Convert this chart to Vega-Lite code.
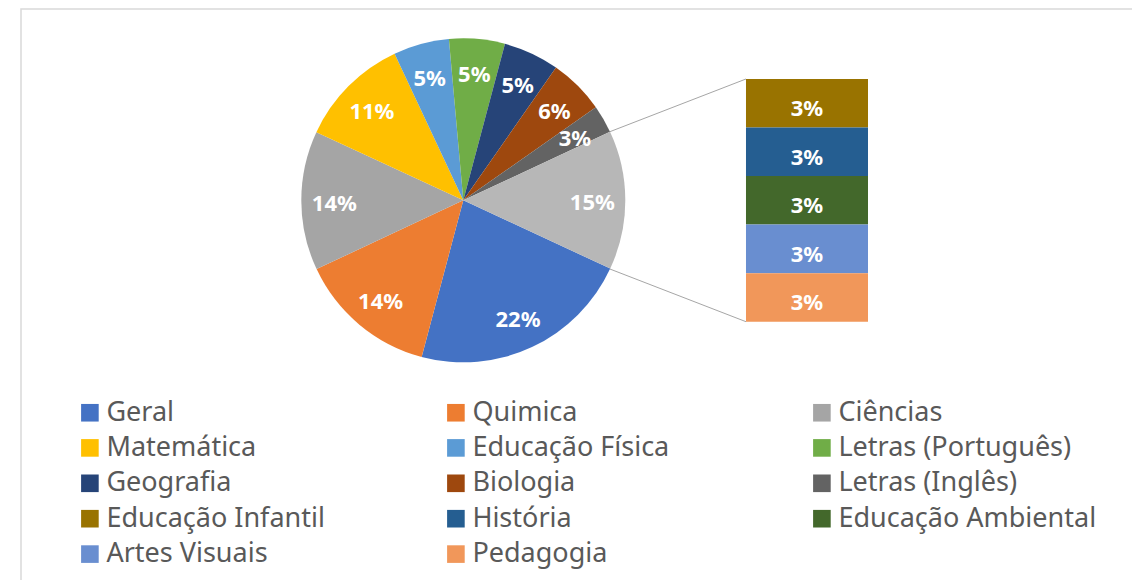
{
  "$schema": "https://vega.github.io/schema/vega-lite/v6.json",
  "width": 1114,
  "height": 574,
  "autosize": {"type": "none"},
  "padding": {"left": 21, "top": 9, "right": -3, "bottom": -3},
  "background": "white",
  "config": {
    "view": {"stroke": "#D9D9D9", "strokeWidth": 1.5},
    "font": "Noto Sans"
  },
  "data": {
    "values": [
      {"ordem": 1, "categoria": "Geral", "fatia": "Geral", "grafico": "pizza", "valor": 8, "pct": 0.22},
      {"ordem": 2, "categoria": "Quimica", "fatia": "Quimica", "grafico": "pizza", "valor": 5, "pct": 0.14},
      {"ordem": 3, "categoria": "Ciências", "fatia": "Ciências", "grafico": "pizza", "valor": 5, "pct": 0.14},
      {"ordem": 4, "categoria": "Matemática", "fatia": "Matemática", "grafico": "pizza", "valor": 4, "pct": 0.11},
      {"ordem": 5, "categoria": "Educação Física", "fatia": "Educação Física", "grafico": "pizza", "valor": 2, "pct": 0.05},
      {"ordem": 6, "categoria": "Letras (Português)", "fatia": "Letras (Português)", "grafico": "pizza", "valor": 2, "pct": 0.05},
      {"ordem": 7, "categoria": "Geografia", "fatia": "Geografia", "grafico": "pizza", "valor": 2, "pct": 0.05},
      {"ordem": 8, "categoria": "Biologia", "fatia": "Biologia", "grafico": "pizza", "valor": 2, "pct": 0.06},
      {"ordem": 9, "categoria": "Letras (Inglês)", "fatia": "Letras (Inglês)", "grafico": "pizza", "valor": 1, "pct": 0.03},
      {"ordem": 10, "categoria": "Educação Infantil", "fatia": "Outros", "grafico": "barra", "valor": 1, "pct": 0.03},
      {"ordem": 11, "categoria": "História", "fatia": "Outros", "grafico": "barra", "valor": 1, "pct": 0.03},
      {"ordem": 12, "categoria": "Educação Ambiental", "fatia": "Outros", "grafico": "barra", "valor": 1, "pct": 0.03},
      {"ordem": 13, "categoria": "Artes Visuais", "fatia": "Outros", "grafico": "barra", "valor": 1, "pct": 0.03},
      {"ordem": 14, "categoria": "Pedagogia", "fatia": "Outros", "grafico": "barra", "valor": 1, "pct": 0.03}
    ]
  },
  "layer": [
    {
      "data": {"values": [{}]},
      "mark": {"type": "rule", "color": "#A6A6A6", "strokeWidth": 1, "xOffset": 146.7, "yOffset": -68.7, "x2Offset": -61},
      "encoding": {
        "x": {"datum": "pizza", "type": "nominal", "axis": null},
        "y": {"datum": 2.5, "type": "quantitative", "axis": null},
        "x2": {"datum": "barra"},
        "y2": {"datum": 5}
      }
    },
    {
      "data": {"values": [{}]},
      "mark": {"type": "rule", "color": "#A6A6A6", "strokeWidth": 1, "xOffset": 146.7, "yOffset": 68.7, "x2Offset": -61},
      "encoding": {
        "x": {"datum": "pizza", "type": "nominal", "axis": null},
        "y": {"datum": 2.5, "type": "quantitative", "axis": null},
        "x2": {"datum": "barra"},
        "y2": {"datum": 0}
      }
    },
    {
      "transform": [
        {"aggregate": [
          {"op": "sum", "field": "valor", "as": "valor"},
          {"op": "sum", "field": "pct", "as": "pct"},
          {"op": "min", "field": "ordem", "as": "ordem"}
        ], "groupby": ["fatia"]}
      ],
      "encoding": {
        "theta": {"field": "valor", "type": "quantitative", "stack": true, "scale": {"range": [2.0054, 8.2886]}},
        "order": {"field": "ordem", "type": "quantitative"},
        "x": {"datum": "pizza", "type": "nominal", "axis": null},
        "y": {"datum": 2.5, "type": "quantitative", "axis": null}
      },
      "layer": [
        {
          "mark": {"type": "arc", "outerRadius": 162},
          "encoding": {
            "color": {
              "field": "fatia",
              "type": "nominal",
              "scale": {
                "domain": ["Geral", "Quimica", "Ciências", "Matemática", "Educação Física", "Letras (Português)", "Geografia", "Biologia", "Letras (Inglês)", "Educação Infantil", "História", "Educação Ambiental", "Artes Visuais", "Pedagogia", "Outros"],
                "range": ["#4472C4", "#ED7D31", "#A5A5A5", "#FFC000", "#5B9BD5", "#70AD47", "#264478", "#9E480E", "#636363", "#997300", "#255E91", "#43682B", "#698ED0", "#F1975A", "#B7B7B7"]
              },
              "legend": {
                "title": null,
                "orient": "none",
                "direction": "horizontal",
                "legendX": 55.4,
                "legendY": 390,
                "columns": 3,
                "gridAlign": "all",
                "columnPadding": 78,
                "rowPadding": 7.4,
                "padding": 0,
                "symbolType": "square",
                "symbolSize": 310,
                "symbolStrokeWidth": 0,
                "labelFont": "Noto Sans",
                "labelFontSize": 27,
                "labelColor": "#595959",
                "labelOffset": 3,
                "labelLimit": 400,
                "values": ["Geral", "Quimica", "Ciências", "Matemática", "Educação Física", "Letras (Português)", "Geografia", "Biologia", "Letras (Inglês)", "Educação Infantil", "História", "Educação Ambiental", "Artes Visuais", "Pedagogia"]
              }
            }
          }
        },
        {
          "mark": {"type": "text", "radius": 129, "dy": 3, "fontSize": 22, "fontWeight": "bold", "font": "Noto Sans", "color": "white", "align": "center", "baseline": "middle"},
          "encoding": {
            "text": {"field": "pct", "type": "quantitative", "format": ".0%"}
          }
        }
      ]
    },
    {
      "transform": [{"filter": "datum.grafico === 'barra'"}],
      "encoding": {
        "x": {
          "field": "grafico",
          "type": "nominal",
          "axis": null,
          "scale": {"type": "band", "domain": ["pizza", "barra"], "range": [381.3, 847], "paddingInner": 0.645, "paddingOuter": 0}
        },
        "order": {"field": "ordem", "type": "quantitative", "sort": "descending"}
      },
      "layer": [
        {
          "mark": {"type": "bar"},
          "encoding": {
            "y": {"field": "valor", "type": "quantitative", "stack": "zero", "axis": null, "scale": {"domain": [0, 5], "range": [312.7, 70]}},
            "color": {"field": "categoria", "type": "nominal"}
          }
        },
        {
          "mark": {"type": "text", "dy": 6, "fontSize": 22, "fontWeight": "bold", "font": "Noto Sans", "color": "white", "align": "center", "baseline": "middle"},
          "encoding": {
            "y": {"field": "valor", "type": "quantitative", "stack": "zero", "bandPosition": 0.5, "axis": null},
            "text": {"field": "pct", "type": "quantitative", "format": ".0%"}
          }
        }
      ]
    }
  ]
}
